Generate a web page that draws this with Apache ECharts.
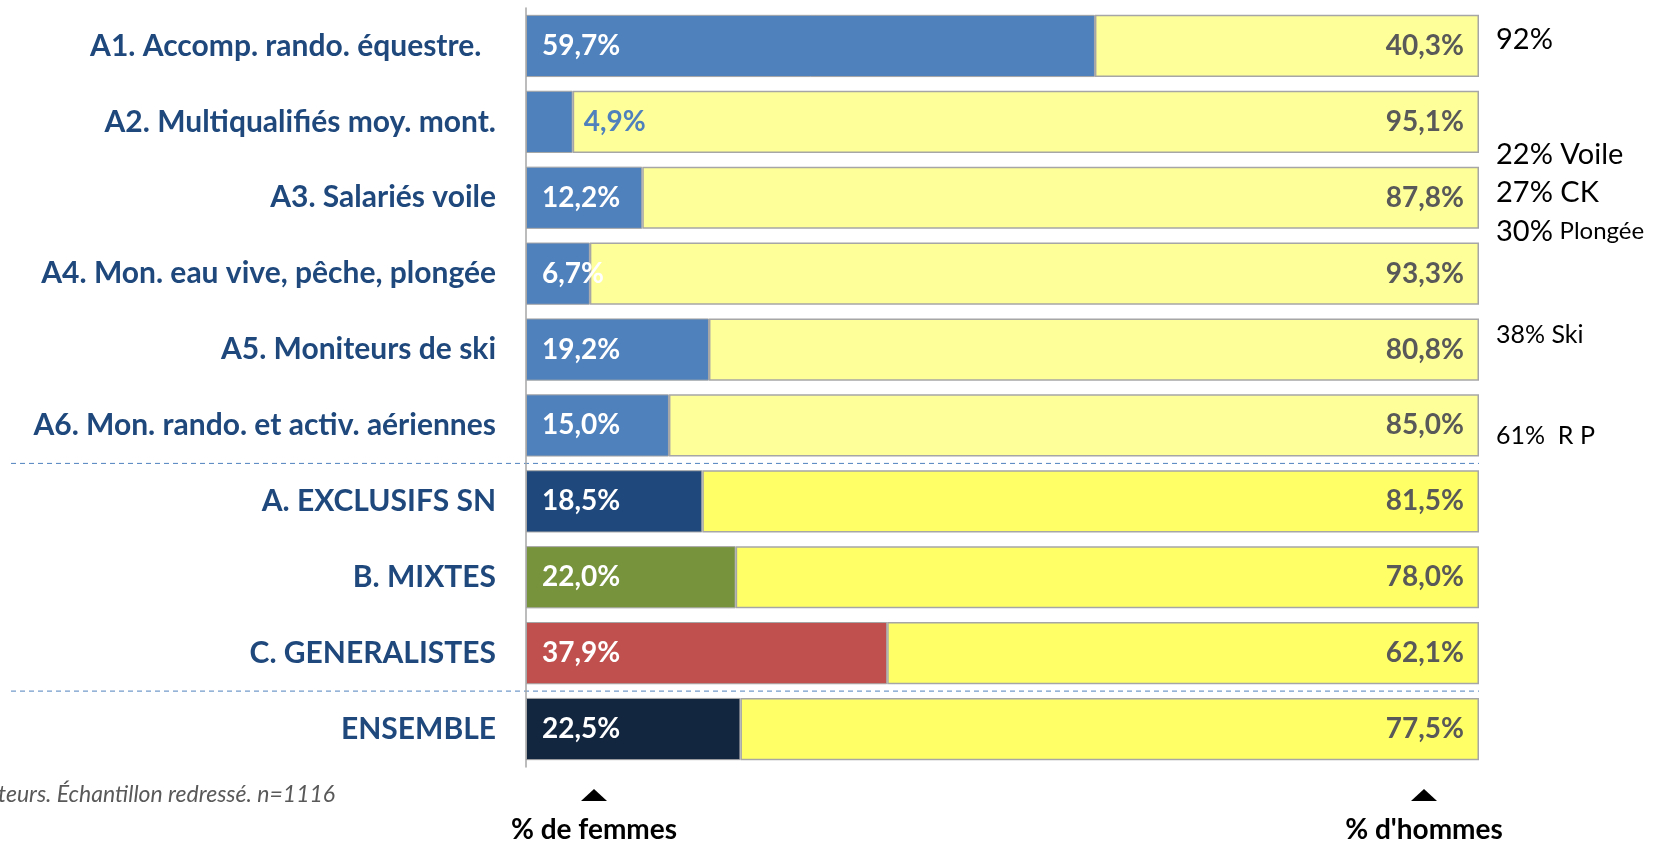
<!DOCTYPE html>
<html>
<head>
<meta charset="utf-8">
<script src="https://cdn.jsdelivr.net/npm/echarts@6/dist/echarts.min.js"></script>
<style>
  html, body { margin: 0; padding: 0; background: #fff; }
  #chart { width: 1654px; height: 841px; }
</style>
</head>
<body>
<div id="chart"></div>
<script>
const categories = [
  'A1. Accomp. rando. équestre.  ',
  'A2. Multiqualifiés moy. mont.',
  'A3. Salariés voile',
  'A4. Mon. eau vive, pêche, plongée',
  'A5. Moniteurs de ski',
  'A6. Mon. rando. et activ. aériennes',
  'A. EXCLUSIFS SN',
  'B. MIXTES',
  'C. GENERALISTES',
  'ENSEMBLE'
]
const femmes = [59.7, 4.9, 12.2, 6.7, 19.2, 15.0, 18.5, 22.0, 37.9, 22.5]
const hommes = [40.3, 95.1, 87.8, 93.3, 80.8, 85.0, 81.5, 78.0, 62.1, 77.5]
const femmeColors = ['#4f81bd', '#4f81bd', '#4f81bd', '#4f81bd', '#4f81bd', '#4f81bd', '#1f497d', '#77933c', '#c0504d', '#132640']
const hommeColors = ['#ffff99', '#ffff99', '#ffff99', '#ffff99', '#ffff99', '#ffff99', '#ffff66', '#ffff66', '#ffff66', '#ffff66']

const FONT = 'Lato, "Open Sans", sans-serif'
const fmt = v => v.toFixed(1).replace('.', ',') + '%'

const chart = echarts.init(document.getElementById('chart'))
chart.setOption({
  animation: false,
  textStyle: { fontFamily: FONT },
  grid: { left: 526, right: 175, top: 8, bottom: 74 },
  xAxis: { type: 'value', min: 0, max: 100, show: false },
  yAxis: {
    type: 'category',
    data: categories,
    inverse: true,
    axisTick: { show: false },
    axisLine: { lineStyle: { color: '#a6a6a6', width: 1.5 } },
    axisLabel: { color: '#1f497d', fontWeight: 'bold', fontSize: 30, margin: 30, fontFamily: FONT }
  },
  series: [
    {
      name: 'Femmes',
      type: 'bar',
      stack: 'total',
      barCategoryGap: '18%',
      data: femmes.map((v, i) => {
        const d = { value: v, itemStyle: { color: femmeColors[i] } }
        if (i === 1) d.label = { position: 'right', distance: 11, color: '#4f81bd' }
        return d
      }),
      itemStyle: { borderColor: '#a6a6a6', borderWidth: 1 },
      label: {
        show: true, position: 'insideLeft', distance: 16,
        color: '#fff', fontWeight: 'bold', fontSize: 28, fontFamily: FONT,
        formatter: p => fmt(p.value)
      }
    },
    {
      name: 'Hommes',
      type: 'bar',
      stack: 'total',
      data: hommes.map((v, i) => ({ value: v, itemStyle: { color: hommeColors[i] } })),
      itemStyle: { borderColor: '#a6a6a6', borderWidth: 1.5 },
      label: {
        show: true, position: 'insideRight', distance: 15,
        color: '#595959', fontWeight: 'bold', fontSize: 28, fontFamily: FONT,
        formatter: p => fmt(p.value)
      }
    }
  ]
})

// décor : séparateurs, notes à droite, flèches
const yOf = i => chart.convertToPixel({ yAxisIndex: 0 }, categories[i])
const sep1 = (yOf(5) + yOf(6)) / 2
const sep2 = (yOf(8) + yOf(9)) / 2
const noteFont = size => size + 'px ' + FONT
const dash = y => ({
  type: 'line', shape: { x1: 11, y1: y, x2: 1479, y2: y },
  style: { stroke: '#4f81bd', lineWidth: 1, lineDash: [5, 4] }
})
const note = (y, text, size) => ({
  type: 'text', x: 1496, y: y,
  style: { text: text, font: noteFont(size), fill: '#000', verticalAlign: 'middle' }
})
const tri = cx => ({
  type: 'polygon', shape: { points: [[cx - 13, 801], [cx + 13, 801], [cx, 789]] },
  style: { fill: '#000' }
})
const axisTitle = (cx, text) => ({
  type: 'text', x: cx, y: 830,
  style: { text: text, font: 'bold 28px ' + FONT, fill: '#000', align: 'center', verticalAlign: 'middle' }
})

chart.setOption({
  graphic: [
    dash(sep1), dash(sep2),
    note(yOf(0) - 6, '92%', 29),
    note(yOf(2) - 43, '22% Voile', 29),
    note(yOf(2) - 5, '27% CK', 29),
    {
      type: 'text', x: 1496, y: yOf(2) + 34,
      style: {
        text: '{a|30%}  {b|Plongée}', verticalAlign: 'middle',
        rich: { a: { font: noteFont(29), fill: '#000' }, b: { font: noteFont(24), fill: '#000' } }
      }
    },
    note(yOf(4) - 15, '38% Ski', 25),
    note(yOf(5) + 10, '61%  R P', 25),
    {
      type: 'text', x: -2, y: 795,
      style: { text: 'teurs. Échantillon redressé. n=1116', font: 'italic 23px ' + FONT, fill: '#595959', verticalAlign: 'middle' }
    },
    tri(594), tri(1424),
    axisTitle(594, '% de femmes'),
    axisTitle(1424, "% d'hommes")
  ]
})

window.addEventListener('resize', () => {
  chart.resize()
})
</script>
</body>
</html>
